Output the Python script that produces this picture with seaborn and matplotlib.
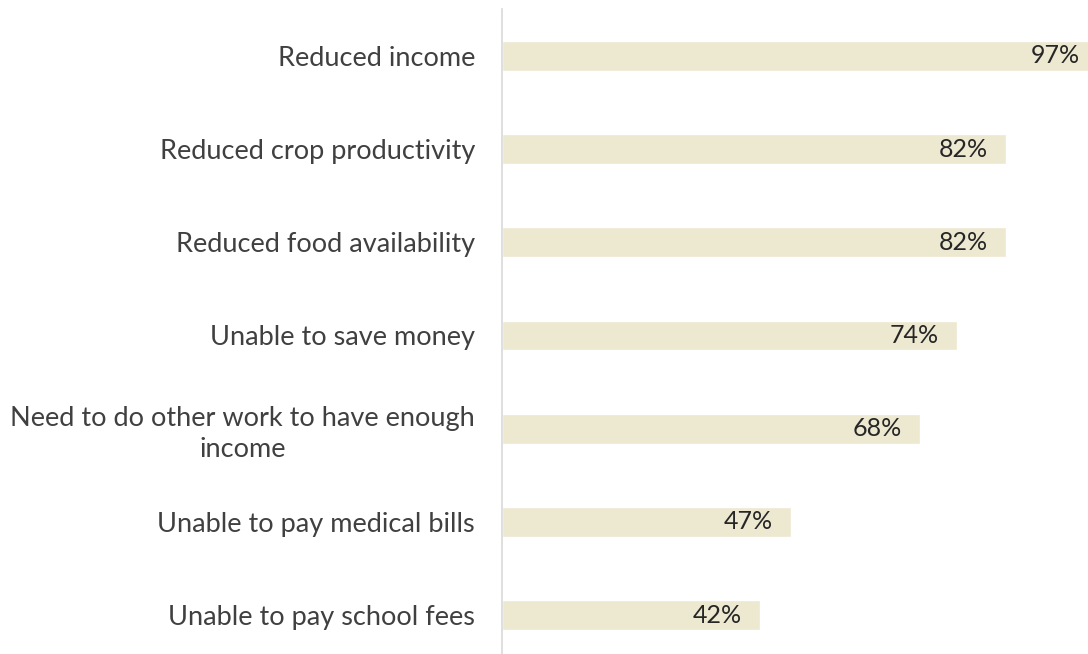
import matplotlib
matplotlib.use("Agg")
import matplotlib.pyplot as plt
import seaborn as sns
import pandas as pd

categories = [
    "Reduced income",
    "Reduced crop productivity",
    "Reduced food availability",
    "Unable to save money",
    "Need to do other work to have enough\nincome",
    "Unable to pay medical bills",
    "Unable to pay school fees",
]
values = [97, 82, 82, 74, 68, 47, 42]

df = pd.DataFrame({"category": categories, "value": values})

sns.set_theme(style="white")
plt.rcParams["font.family"] = ["Lato", "DejaVu Sans"]

W, H = 1088, 654
fig = plt.figure(figsize=(W / 100, H / 100), dpi=100)
left_px, right_px = 502, 1088
top_px, bot_px = 9.4, 661.6
ax = fig.add_axes([left_px / W, 1 - bot_px / H, (right_px - left_px) / W, (bot_px - top_px) / H])

sns.barplot(data=df, x="value", y="category", color="#EDE8D0", width=0.32,
            saturation=1, ax=ax, orient="h")

ax.set_xlim(0, (right_px - left_px) / 6.146)
ax.set_ylim(6.5, -0.5)
ax.set_xlabel("")
ax.set_ylabel("")
ax.set_xticks([])
for s in ["top", "right", "bottom"]:
    ax.spines[s].set_visible(False)
ax.spines["left"].set_color("#D9D9D9")
ax.spines["left"].set_linewidth(1.2)

ax.tick_params(axis="y", length=0, pad=19.5, labelsize=19.5, labelcolor="#404040")
for lbl in ax.get_yticklabels():
    lbl.set_multialignment("center")
    lbl.set_linespacing(1.3)

for i, v in enumerate(values):
    ax.annotate(f"{v}%", xy=(v, i), xytext=(-13, 0), textcoords="offset points",
                ha="right", va="center", fontsize=18, color="#262626",
                annotation_clip=False)

fig.savefig("out.png", dpi=100)
